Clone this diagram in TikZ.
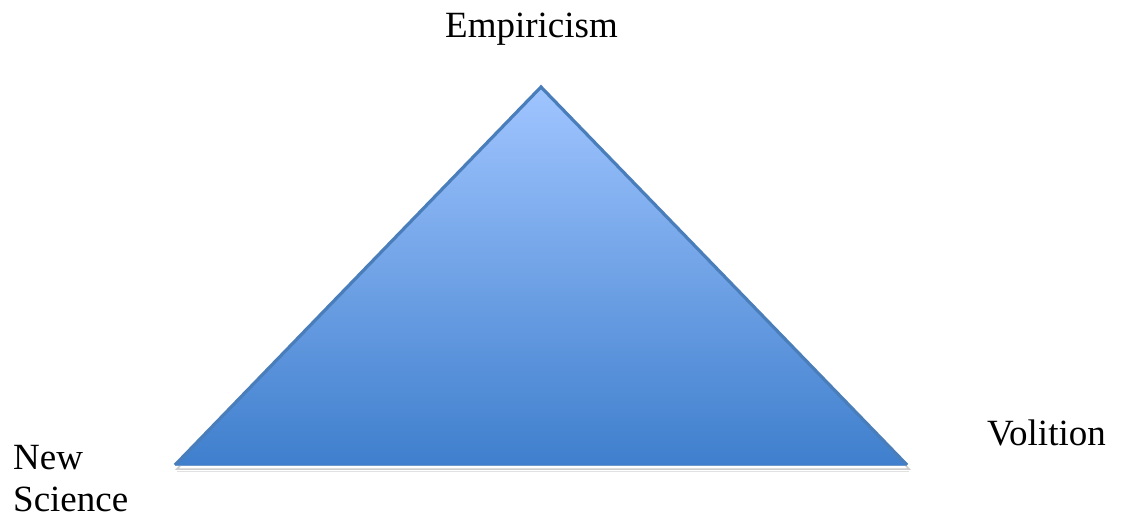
\documentclass[tikz,border=0pt]{standalone}
\usepackage{fontspec}
\setmainfont{Liberation Serif}
\definecolor{triTop}{RGB}{160,197,255}
\definecolor{triBot}{RGB}{63,127,205}
\definecolor{triEdge}{RGB}{74,126,187}
\definecolor{shadowGray}{RGB}{205,205,205}
\tikzset{
  lbl/.style={inner sep=0pt, anchor=base west, font=\fontsize{37}{43}\selectfont, align=left},
}
\begin{document}
\begin{tikzpicture}[x=1pt,y=-1pt]
\useasboundingbox (0,0) rectangle (1122,518);
\coordinate (apex) at (541,87);
\coordinate (bl) at (175,465);
\coordinate (br) at (907,465);
% soft shadow outline
\draw[shadowGray, line width=1.5pt, line join=miter] ([shift={(2,4)}]apex) -- ([shift={(2,4)}]bl) -- ([shift={(2,4)}]br) -- cycle;
\draw[shadowGray!60, line width=1pt] ([shift={(2,6.5)}]bl) -- ([shift={(2,6.5)}]br);
% triangle
\shade[top color=triTop, bottom color=triBot, shading angle=0] (apex) -- (bl) -- (br) -- cycle;
\draw[triEdge, line width=3.2pt, line join=miter] (bl) -- (apex) -- (br);
\draw[triEdge!80, line width=1pt] (bl) -- (br);
% labels
\node[lbl] (emp) at (445,38) {Empiricism};
\node[lbl] (vol) at (987,446) {Volition};
\node[lbl] (ns1) at (13,469) {New};
\node[lbl] (ns2) at (13,511) {Science};
\end{tikzpicture}
\end{document}
